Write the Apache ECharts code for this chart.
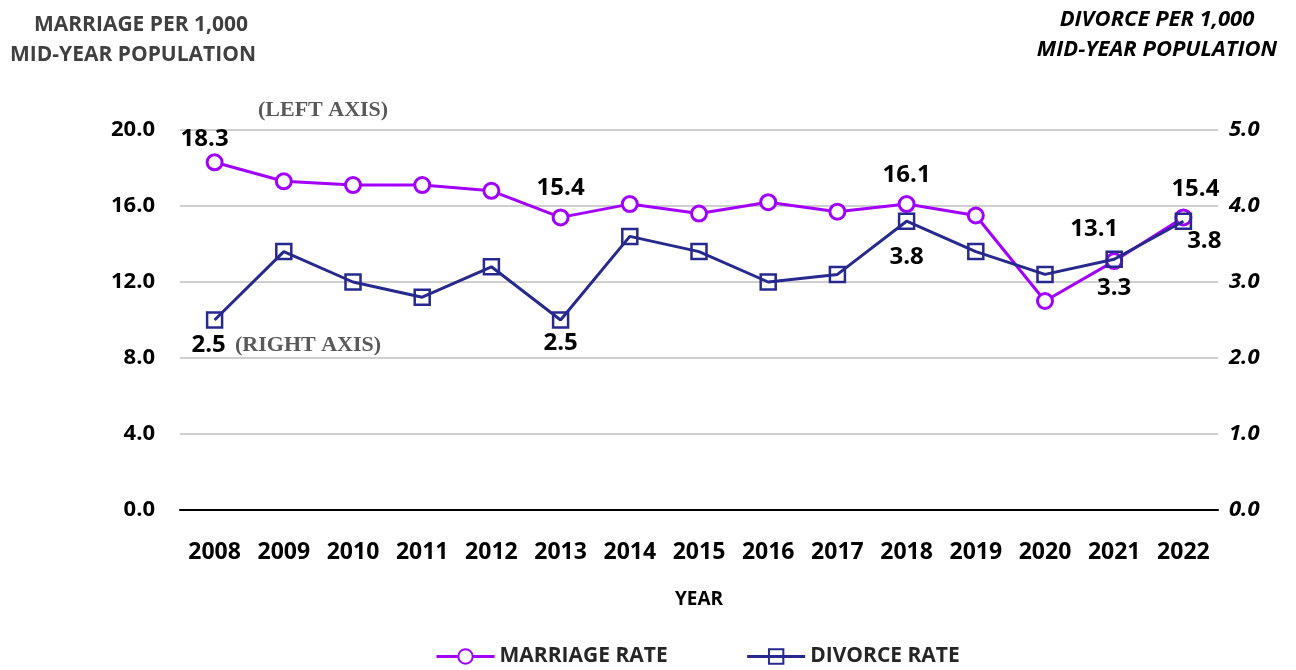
<!DOCTYPE html>
<html>
<head>
<meta charset="utf-8">
<script src="https://cdn.jsdelivr.net/npm/echarts@6/dist/echarts.min.js"></script>
<style>
  html, body { margin: 0; padding: 0; background: #fff; }
  #chart { width: 1296px; height: 670px; }
</style>
</head>
<body>
<div id="chart"></div>
<script>
var years = ['2008', '2009', '2010', '2011', '2012', '2013', '2014', '2015', '2016', '2017', '2018', '2019', '2020', '2021', '2022'];
var marriageRate = [18.3, 17.3, 17.1, 17.1, 16.8, 15.4, 16.1, 15.6, 16.2, 15.7, 16.1, 15.5, 11.0, 13.1, 15.4];
var divorceRate = [2.5, 3.4, 3.0, 2.8, 3.2, 2.5, 3.6, 3.4, 3.0, 3.1, 3.8, 3.4, 3.1, 3.3, 3.8];
// which points carry a value label
var marriageLabelled = [0, 5, 10, 13, 14];
var divorceLabelled = [0, 5, 10, 13, 14];

var labelFont = { fontFamily: 'Open Sans', fontWeight: 'bold', fontSize: 24, color: '#000' };

function buildData(values, labelled, pos, special) {
  return values.map(function (v, i) {
    if (labelled.indexOf(i) < 0) return v;
    var lab = Object.assign({ show: true, position: pos, distance: 8 }, labelFont);
    if (special[i]) Object.assign(lab, special[i]);
    return { value: v, label: lab };
  });
}

var chart = echarts.init(document.getElementById('chart'));

var option = {
  animation: false,
  textStyle: { fontFamily: 'Open Sans' },
  grid: { left: 180, right: 78, top: 130, bottom: 160 },
  legend: {
    bottom: -2,
    left: 430,
    itemGap: 78,
    itemWidth: 58,
    itemHeight: 18,
    lineStyle: { width: 3 },
    textStyle: { fontFamily: 'Open Sans', fontWeight: 'bold', fontSize: 21, color: '#262626' },
    data: ['MARRIAGE RATE', 'DIVORCE RATE']
  },
  xAxis: {
    type: 'category',
    data: years,
    boundaryGap: true,
    name: 'YEAR',
    nameLocation: 'middle',
    nameGap: 80,
    nameTextStyle: { fontFamily: 'Open Sans', fontWeight: 'bold', fontSize: 19, color: '#000' },
    axisLine: { lineStyle: { color: '#000', width: 2 } },
    axisTick: { show: false },
    axisLabel: { margin: 31, fontFamily: 'Open Sans', fontWeight: 'bold', fontSize: 23, color: '#000' }
  },
  yAxis: [
    {
      type: 'value',
      min: 0,
      max: 20,
      interval: 4,
      axisLine: { show: false },
      axisTick: { show: false },
      splitLine: { lineStyle: { color: '#bfbfbf', width: 1.5 } },
      axisLabel: {
        margin: 25,
        fontFamily: 'Open Sans', fontWeight: 'bold', fontSize: 22, color: '#000',
        formatter: function (v) { return v.toFixed(1); }
      }
    },
    {
      type: 'value',
      min: 0,
      max: 5,
      interval: 1,
      axisLine: { show: false },
      axisTick: { show: false },
      splitLine: { show: false },
      axisLabel: {
        margin: 11,
        fontFamily: 'Open Sans', fontWeight: 'bold', fontStyle: 'italic', fontSize: 22, color: '#000',
        formatter: function (v) { return v.toFixed(1); }
      }
    }
  ],
  series: [
    {
      name: 'MARRIAGE RATE',
      type: 'line',
      yAxisIndex: 0,
      symbol: 'circle',
      symbolSize: 15,
      lineStyle: { color: '#a100ff', width: 3 },
      itemStyle: { color: '#fff', borderColor: '#a100ff', borderWidth: 3 },
      data: buildData(marriageRate, marriageLabelled, 'top', {
        0: { distance: 2, offset: [-10, 0] },
        13: { distance: 11, offset: [-20, 0] },
        14: { distance: 7, offset: [12, 0] }
      }),
      z: 3
    },
    {
      name: 'DIVORCE RATE',
      type: 'line',
      yAxisIndex: 1,
      symbol: 'rect',
      symbolSize: 15,
      lineStyle: { color: '#27298f', width: 3 },
      itemStyle: { color: 'rgba(255,255,255,0)', borderColor: '#27298f', borderWidth: 2.5 },
      data: buildData(divorceRate, divorceLabelled, 'bottom', {
        0: { distance: 4, offset: [-6, 0] },
        5: { distance: 2 },
        10: { distance: 15 },
        13: { distance: 8 },
        14: { position: 'right', distance: 5, offset: [-10, 20] }
      }),
      z: 4
    }
  ],
  graphic: [
    {
      type: 'text', x: 141, y: 25,
      style: { text: 'MARRIAGE PER 1,000', font: 'bold 21px "Open Sans"', fill: '#404040', align: 'center', verticalAlign: 'middle' }
    },
    {
      type: 'text', x: 133, y: 55,
      style: { text: 'MID-YEAR POPULATION', font: 'bold 21px "Open Sans"', fill: '#404040', align: 'center', verticalAlign: 'middle' }
    },
    {
      type: 'text', x: 1157, y: 20,
      style: { text: 'DIVORCE PER 1,000', font: 'italic bold 22px "Open Sans"', fill: '#000', align: 'center', verticalAlign: 'middle' }
    },
    {
      type: 'text', x: 1157, y: 50,
      style: { text: 'MID-YEAR POPULATION', font: 'italic bold 22px "Open Sans"', fill: '#000', align: 'center', verticalAlign: 'middle' }
    },
    {
      type: 'text', x: 258, y: 110,
      style: { text: '(LEFT AXIS)', font: 'bold 22px "Liberation Serif"', fill: '#595959', verticalAlign: 'middle' }
    },
    {
      type: 'text', x: 235, y: 345,
      style: { text: '(RIGHT AXIS)', font: 'bold 22px "Liberation Serif"', fill: '#595959', verticalAlign: 'middle' }
    }
  ]
};

chart.setOption(option);
</script>
</body>
</html>
